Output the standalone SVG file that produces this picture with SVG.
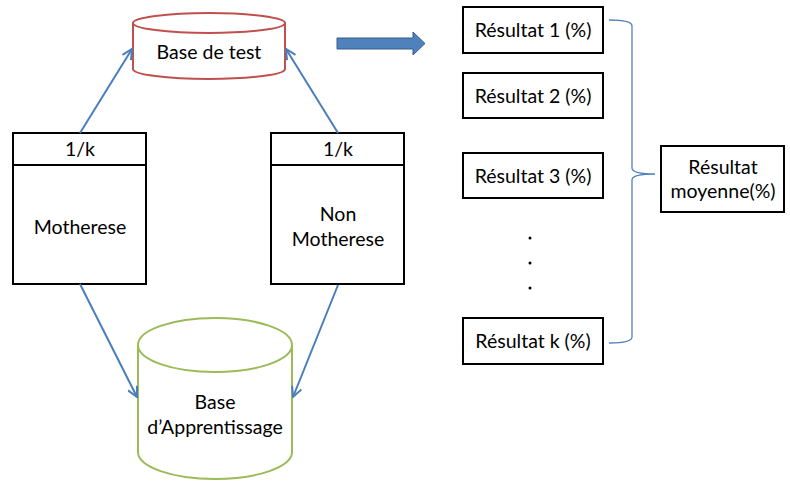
<svg xmlns="http://www.w3.org/2000/svg" width="790" height="482" viewBox="0 0 790 482">
<defs>
<style>
text{font-family:Lato,"Liberation Sans",sans-serif;font-size:19.5px;fill:#000;text-anchor:middle}
.box{fill:#fff;stroke:#000;stroke-width:2}
.conn{stroke:#4A7EBB;stroke-width:2;fill:none}
.brace{stroke:#4F81BD;stroke-width:1.3;fill:none}
</style>
<marker id="ah" viewBox="0 0 12 12" refX="11" refY="6" markerWidth="12" markerHeight="12" markerUnits="userSpaceOnUse" orient="auto">
<path d="M1,1 L11,6 L1,11" fill="none" stroke="#4A7EBB" stroke-width="2"/>
</marker>
</defs>
<rect width="790" height="482" fill="#fff"/>
<g id="base-test">
<path d="M133,23 L133,69 A76,10 0 0 0 285,69 L285,23" fill="#fff" stroke="#C0504D" stroke-width="2"/>
<ellipse cx="209" cy="23" rx="76" ry="10" fill="#fff" stroke="#C0504D" stroke-width="2"/>
<text x="209" y="59">Base de test</text>
</g>
<g id="base-app">
<path d="M138,345 L138,452 A77,27 0 0 0 292,452 L292,345" fill="#fff" stroke="#9BBB59" stroke-width="2"/>
<ellipse cx="215" cy="345" rx="77" ry="27" fill="#fff" stroke="#9BBB59" stroke-width="2"/>
<text x="215" y="409">Base</text>
<text x="215" y="434">d’Apprentissage</text>
</g>
<g id="motherese">
<rect class="box" x="13" y="133" width="133" height="151"/>
<line x1="13" y1="165" x2="146" y2="165" stroke="#000" stroke-width="2"/>
<text x="80" y="156">1/k</text>
<text x="80" y="234">Motherese</text>
</g>
<g id="non-motherese">
<rect class="box" x="271" y="133" width="133" height="151"/>
<line x1="271" y1="165" x2="404" y2="165" stroke="#000" stroke-width="2"/>
<text x="338" y="156">1/k</text>
<text x="338" y="221">Non</text>
<text x="338" y="246">Motherese</text>
</g>
<g id="res1"><rect class="box" x="463" y="7" width="140" height="46"/><text x="533" y="37">Résultat 1 (%)</text></g>
<g id="res2"><rect class="box" x="463" y="73" width="140" height="45"/><text x="533" y="103">Résultat 2 (%)</text></g>
<g id="res3"><rect class="box" x="463" y="153" width="140" height="45"/><text x="533" y="183">Résultat 3 (%)</text></g>
<g id="dots"><circle cx="530" cy="238" r="1.5"/><circle cx="530" cy="263" r="1.5"/><circle cx="530" cy="288" r="1.5"/></g>
<g id="resk"><rect class="box" x="463" y="318" width="140" height="46"/><text x="533" y="348">Résultat k (%)</text></g>
<g id="res-moy"><rect class="box" x="661" y="146" width="123" height="66"/><text x="723" y="174">Résultat</text><text x="723" y="198">moyenne(%)</text></g>
<g id="connectors">
<line class="conn" x1="80" y1="133" x2="132" y2="49" marker-end="url(#ah)"/>
<line class="conn" x1="338" y1="133" x2="286" y2="49" marker-end="url(#ah)"/>
<line class="conn" x1="80" y1="284" x2="137" y2="397" marker-end="url(#ah)"/>
<line class="conn" x1="338" y1="285" x2="293" y2="397" marker-end="url(#ah)"/>
<path d="M337,38 L413,38 L413,32 L425,43.5 L413,55 L413,49 L337,49 Z" fill="#4F81BD" stroke="#385D8A" stroke-width="1"/>
<path class="brace" d="M609,20 Q632,20 632,26 L632,168 Q632,174 655,174 Q632,174 632,180 L632,337 Q632,343 609,343"/>
</g>
</svg>
